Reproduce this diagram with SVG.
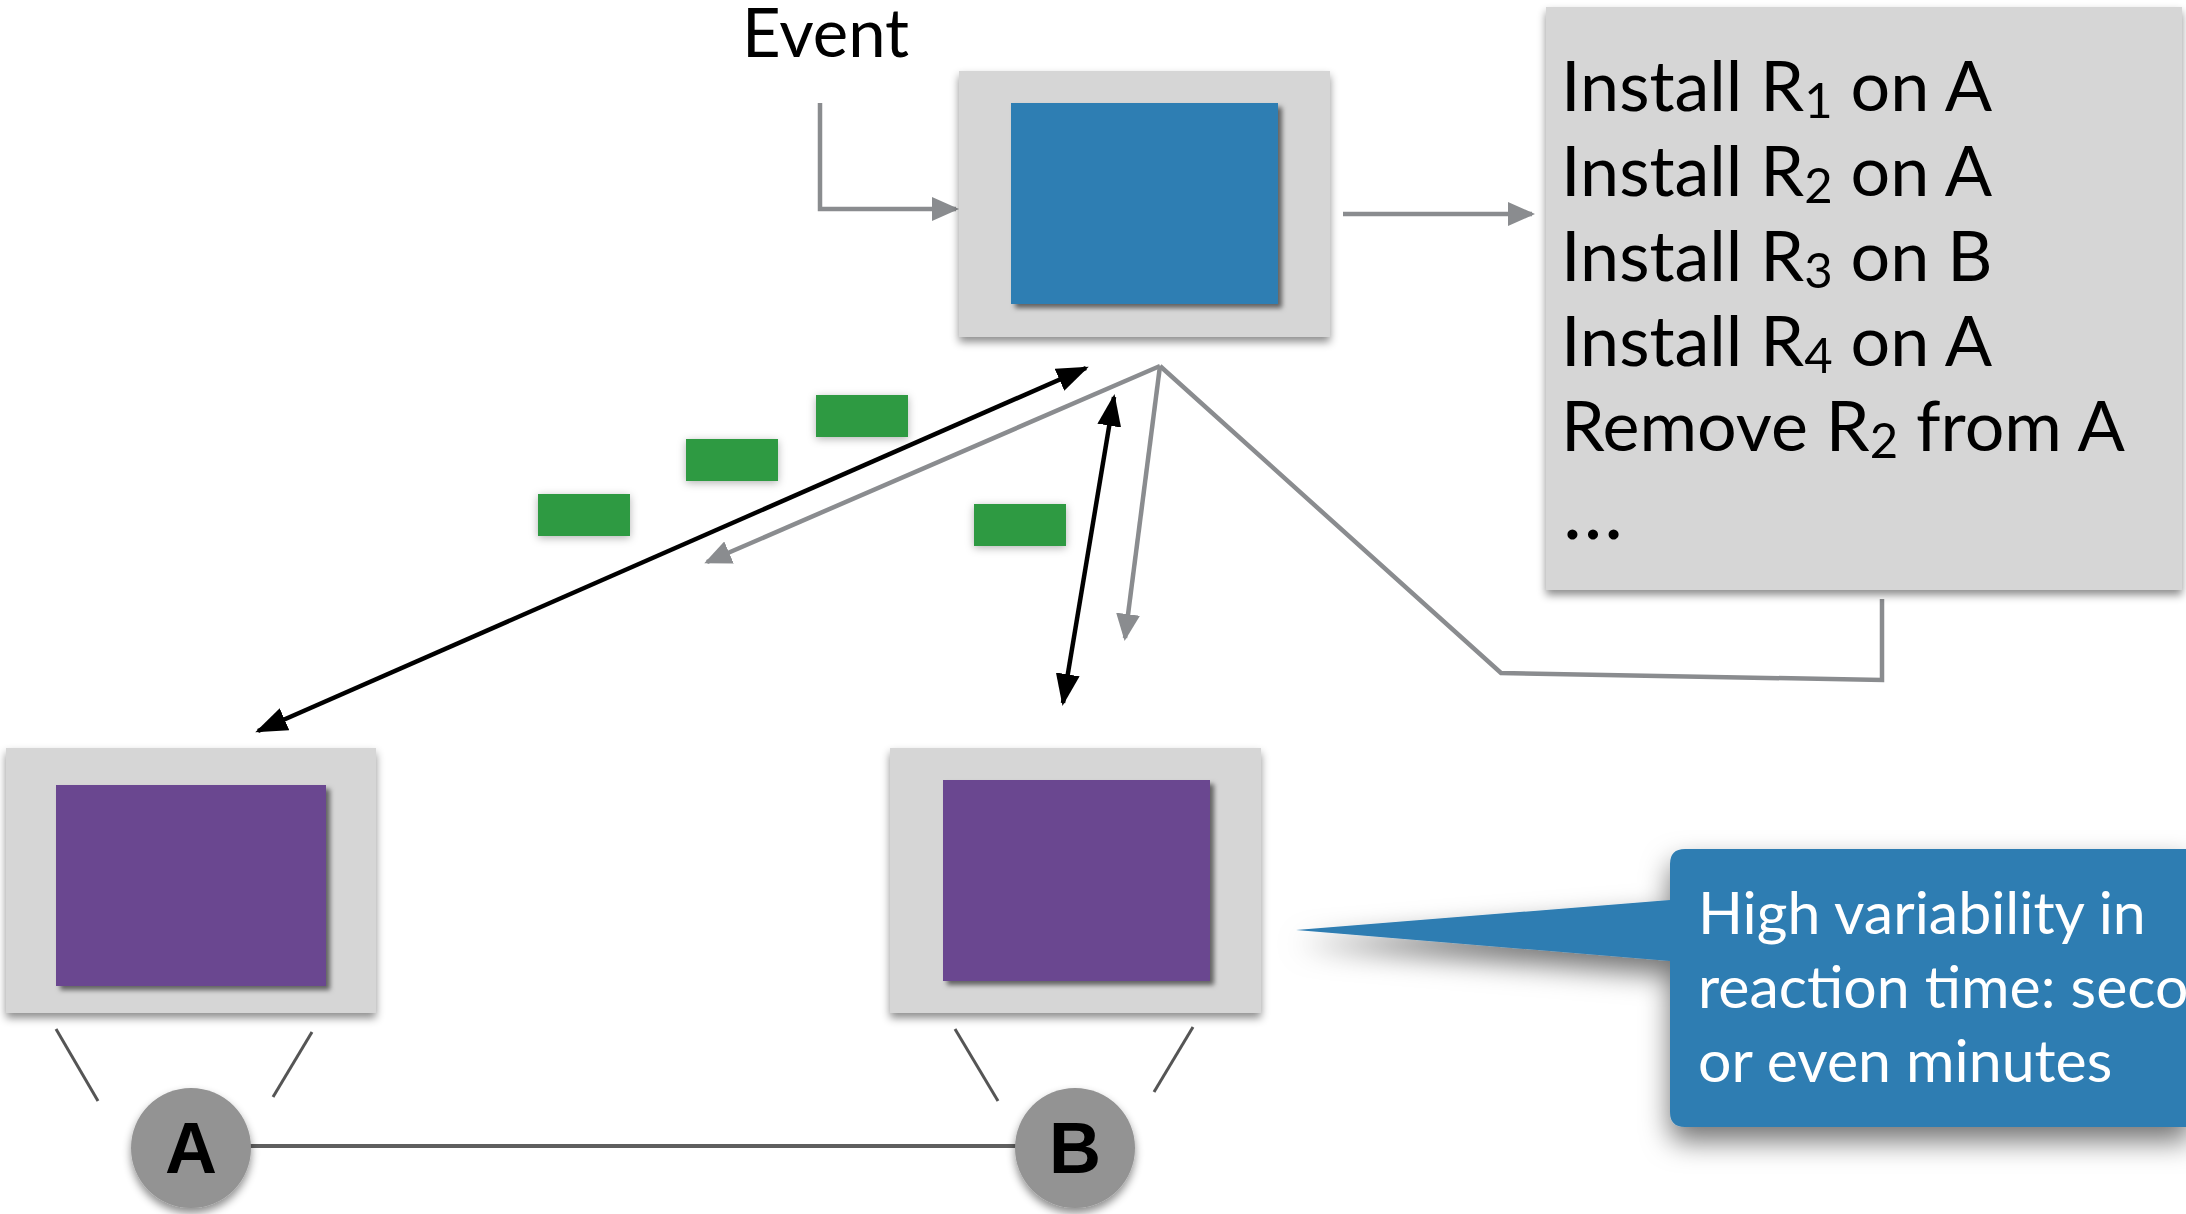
<svg xmlns="http://www.w3.org/2000/svg" width="2186" height="1214" viewBox="0 0 2186 1214">
  <defs>
    <style>
      .panel { fill: #d6d6d6; }
      .ctrl { fill: #2f7eb3; }
      .sw { fill: #6a4690; }
      .pkt { fill: #2f9a42; }
      .link { stroke: #5f5f5f; stroke-width: 4; fill: none; }
      .tie { stroke: #555; stroke-width: 3; fill: none; }
      .gline { stroke: #8a8c8f; stroke-width: 4.5; fill: none; }
      .bline { stroke: #000; stroke-width: 4.5; fill: none; }
      .txt { font-family: "Lato", "Open Sans", "Liberation Sans", sans-serif; fill: #000; }
      .lbl { font-family: "Liberation Sans", "DejaVu Sans", sans-serif; font-weight: bold; font-size: 72px; fill: #000; text-anchor: middle; }
      .note { font-family: "Lato", "Open Sans", "Liberation Sans", sans-serif; fill: #fff; font-size: 59px; }
      .sub { font-size: 0.7em; }
    </style>
    <filter id="lift" x="-10%" y="-10%" width="120%" height="125%">
      <feDropShadow dx="0" dy="5" stdDeviation="4" flood-color="#000" flood-opacity="0.45"/>
    </filter>
    <filter id="inner" x="-10%" y="-10%" width="125%" height="125%">
      <feDropShadow dx="4" dy="4" stdDeviation="2.5" flood-color="#000" flood-opacity="0.55"/>
    </filter>
    <filter id="soft" x="-20%" y="-30%" width="140%" height="170%">
      <feDropShadow dx="0" dy="2" stdDeviation="4" flood-color="#000" flood-opacity="0.3"/>
    </filter>
    <filter id="bubble" x="-20%" y="-20%" width="140%" height="160%">
      <feDropShadow dx="0" dy="14" stdDeviation="14" flood-color="#000" flood-opacity="0.55"/>
    </filter>
    <marker id="gHead" viewBox="0 0 27 24" refX="24" refY="12" markerWidth="27" markerHeight="24" markerUnits="userSpaceOnUse" orient="auto-start-reverse">
      <path d="M0,0 L27,12 L0,24 z" fill="#8a8c8f"/>
    </marker>
    <marker id="bHead" viewBox="0 0 32 24" refX="29" refY="12" markerWidth="32" markerHeight="24" markerUnits="userSpaceOnUse" orient="auto-start-reverse">
      <path d="M0,0 L32,12 L0,24 z" fill="#000"/>
    </marker>
  </defs>

  <rect width="2186" height="1214" fill="#fff"/>

  <!-- physical links: A–B and switch tethers -->
  <g id="links">
    <line class="link" x1="240" y1="1146" x2="1025" y2="1146"/>
    <line class="tie" x1="56" y1="1029" x2="98" y2="1101"/>
    <line class="tie" x1="312" y1="1032" x2="273" y2="1097"/>
    <line class="tie" x1="955" y1="1029" x2="998" y2="1101"/>
    <line class="tie" x1="1193" y1="1027" x2="1154" y2="1092"/>
  </g>

  <!-- control connectors -->
  <g id="connectors">
    <polyline class="gline" points="820,103 820,209 956,209" marker-end="url(#gHead)"/>
    <line class="gline" x1="1343" y1="214" x2="1532" y2="214" marker-end="url(#gHead)"/>
    <polyline class="gline" points="1882,599 1882,680 1501,673 1160,366"/>
    <line class="gline" x1="1160" y1="366" x2="707" y2="562" marker-end="url(#gHead)"/>
    <line class="gline" x1="1160" y1="366" x2="1125" y2="638" marker-end="url(#gHead)"/>
    <line class="bline" x1="258" y1="731" x2="1086" y2="368" marker-start="url(#bHead)" marker-end="url(#bHead)"/>
    <line class="bline" x1="1114" y1="397" x2="1063" y2="703" marker-start="url(#bHead)" marker-end="url(#bHead)"/>
  </g>

  <!-- in-flight packets -->
  <g id="packets">
    <rect class="pkt" x="816" y="395" width="92" height="42" filter="url(#soft)"/>
    <rect class="pkt" x="686" y="439" width="92" height="42" filter="url(#soft)"/>
    <rect class="pkt" x="538" y="494" width="92" height="42" filter="url(#soft)"/>
    <rect class="pkt" x="974" y="504" width="92" height="42" filter="url(#soft)"/>
  </g>

  <g id="event">
    <text class="txt" x="742" y="57" font-size="67">Event</text>
  </g>

  <g id="controller">
    <rect class="panel" x="959" y="71" width="371" height="266" filter="url(#lift)"/>
    <rect class="ctrl" x="1011" y="103" width="267" height="201" filter="url(#inner)"/>
  </g>

  <g id="rules">
    <rect class="panel" x="1546" y="7" width="636" height="583" filter="url(#lift)"/>
    <g class="txt" font-size="70">
      <text x="1561" y="111">Install R<tspan class="sub" dy="7">1</tspan><tspan dy="-7"> on A</tspan></text>
      <text x="1561" y="196">Install R<tspan class="sub" dy="7">2</tspan><tspan dy="-7"> on A</tspan></text>
      <text x="1561" y="281">Install R<tspan class="sub" dy="7">3</tspan><tspan dy="-7"> on B</tspan></text>
      <text x="1561" y="366">Install R<tspan class="sub" dy="7">4</tspan><tspan dy="-7"> on A</tspan></text>
      <text x="1561" y="451">Remove R<tspan class="sub" dy="7">2</tspan><tspan dy="-7"> from A</tspan></text>
      <text x="1563" y="539" font-size="80">…</text>
    </g>
  </g>

  <g id="switchA">
    <rect class="panel" x="6" y="748" width="370" height="265" filter="url(#lift)"/>
    <rect class="sw" x="56" y="785" width="270" height="201" filter="url(#inner)"/>
  </g>

  <g id="switchB">
    <rect class="panel" x="890" y="748" width="371" height="265" filter="url(#lift)"/>
    <rect class="sw" x="943" y="780" width="267" height="201" filter="url(#inner)"/>
  </g>

  <g id="nodeA">
    <circle cx="191" cy="1148" r="60" fill="#939393" filter="url(#lift)"/>
    <text class="lbl" x="191" y="1173">A</text>
  </g>

  <g id="nodeB">
    <circle cx="1075" cy="1148" r="60" fill="#939393" filter="url(#lift)"/>
    <text class="lbl" x="1075" y="1173">B</text>
  </g>

  <g id="callout">
    <path d="M1670,900 L1670,864 Q1670,849 1685,849 L2190,849 L2190,1127 L1685,1127 Q1670,1127 1670,1112 L1670,961 L1296,930 Z" fill="#2f7db2" filter="url(#bubble)"/>
    <text class="note" x="1698" y="934">High variability in</text>
    <text class="note" x="1698" y="1008">reaction time: seco</text>
    <text class="note" x="1698" y="1082">or even minutes</text>
  </g>
</svg>
